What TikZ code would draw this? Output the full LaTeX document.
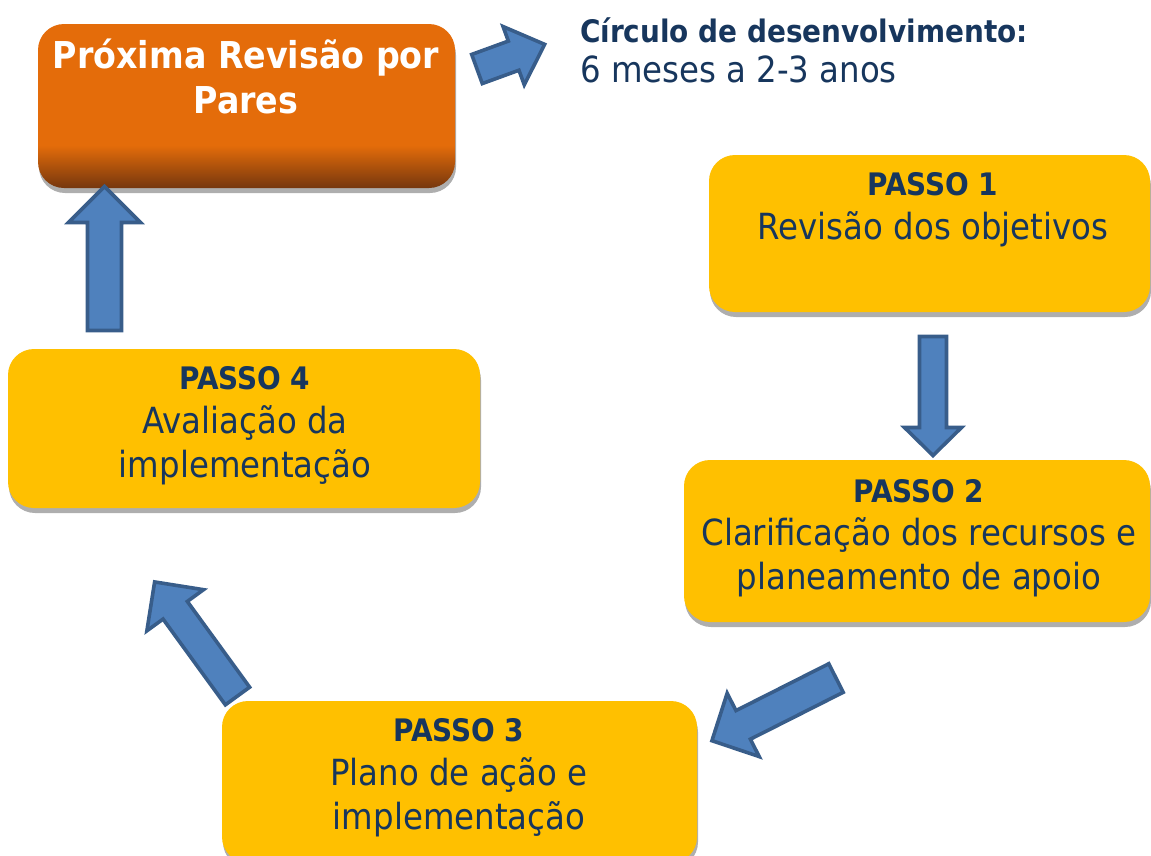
\documentclass[tikz,border=0pt]{standalone}
\usepackage{fontspec}
\setmainfont{DejaVu Sans Condensed}[BoldFont={DejaVu Sans Condensed Bold}]
\usetikzlibrary{shadows}
\definecolor{navy}{RGB}{23,54,93}
\definecolor{boxorange}{RGB}{228,108,10}
\definecolor{boxbrown}{RGB}{118,55,14}
\definecolor{boxyellow}{RGB}{255,192,0}
\definecolor{arrfill}{RGB}{79,129,189}
\definecolor{arrline}{RGB}{56,93,138}
\pgfdeclareverticalshading{orangeshade}{100bp}{color(0bp)=(boxbrown); color(25bp)=(boxbrown); color(38bp)=(boxorange); color(100bp)=(boxorange)}
\tikzset{
  boxshadow/.style={drop shadow={shadow xshift=1pt, shadow yshift=-5pt, fill=black!45, opacity=0.7}},
  stepbox/.style={draw=none, fill=boxyellow, rounded corners=26pt, inner sep=0pt, boxshadow},
  revbox/.style={draw=none, shading=orangeshade, rounded corners=26pt, inner sep=0pt, boxshadow},
  passo/.style={font=\bfseries\fontsize{31}{37}\selectfont, text=navy, anchor=base, inner sep=0pt},
  steptxt/.style={font=\fontsize{36}{44}\selectfont, text=navy, anchor=base, inner sep=0pt},
  revtxt/.style={font=\bfseries\fontsize{37}{45}\selectfont, text=white, anchor=base, inner sep=0pt},
  notetitle/.style={font=\bfseries\fontsize{31}{37}\selectfont, text=navy, anchor=base west, inner sep=0pt},
  notetxt/.style={font=\fontsize{36}{44}\selectfont, text=navy, anchor=base west, inner sep=0pt},
  barrow/.style={draw=arrline, fill=arrfill, line width=3.6pt, line join=miter},
}
% #1 tail coordinate name, #2 angle, #3 length, #4 shaft width, #5 head width, #6 head length
\newcommand\blockarrow[6]{%
  \begin{scope}[shift={(#1)}, rotate=#2, x=1pt, y=1pt]
    \pgfmathsetmacro\La{#3-#6}
    \pgfmathsetmacro\wa{#4/2}
    \pgfmathsetmacro\ha{#5/2}
    \draw[barrow] (0,\wa) -- (\La,\wa) -- (\La,\ha) -- (#3,0) -- (\La,-\ha) -- (\La,-\wa) -- (0,-\wa) -- cycle;
  \end{scope}}
\begin{document}
\begin{tikzpicture}[x=1pt, y=-1pt]
\useasboundingbox (0,0) rectangle (1151,855);
\clip (0,0) rectangle (1151,855);

% boxes
\node[revbox, minimum width=417pt, minimum height=164pt] (rev) at (246.5,106) {};
\node[stepbox, minimum width=441pt, minimum height=157pt] (p1) at (929.5,233.5) {};
\node[stepbox, minimum width=466pt, minimum height=162pt] (p2) at (917,541) {};
\node[stepbox, minimum width=475pt, minimum height=162pt] (p3) at (459.5,782) {};
\node[stepbox, minimum width=472pt, minimum height=159pt] (p4) at (244,428.5) {};

% texts
\node[revtxt] (rev1) at (246,68) {Próxima Revisão por};
\node[revtxt] (rev2) at (246,113) {Pares};

\node[notetitle] (n1) at (580,42) {Círculo de desenvolvimento:};
\node[notetxt] (n2) at (580,82) {6 meses a 2-3 anos};

\node[passo] (p1a) at (933,195) {PASSO 1};
\node[steptxt] (p1b) at (933,239) {Revisão dos objetivos};

\node[passo] (p2a) at (919,502) {PASSO 2};
\node[steptxt] (p2b) at (919,545) {Clarificação dos recursos e};
\node[steptxt] (p2c) at (919,589) {planeamento de apoio};

\node[passo] (p3a) at (459,741) {PASSO 3};
\node[steptxt] (p3b) at (459,785) {Plano de ação e};
\node[steptxt] (p3c) at (459,829) {implementação};

\node[passo] (p4a) at (245,389) {PASSO 4};
\node[steptxt] (p4b) at (245,433) {Avaliação da};
\node[steptxt] (p4c) at (245,477) {implementação};

% block arrows
\coordinate (a0) at (477,69);
\coordinate (a1) at (104.5,330.5);
\coordinate (a2) at (933,336.5);
\coordinate (a3) at (836,678);
\coordinate (a4) at (237.5,696);
\blockarrow{a0}{20}{72}{31}{62}{33}
\blockarrow{a1}{90}{144}{34}{72}{36}
\blockarrow{a2}{-90}{119}{27}{57}{28}
\blockarrow{a3}{-153.2}{139}{32}{71}{35}
\blockarrow{a4}{126}{141}{30}{70}{35}
\end{tikzpicture}
\end{document}
